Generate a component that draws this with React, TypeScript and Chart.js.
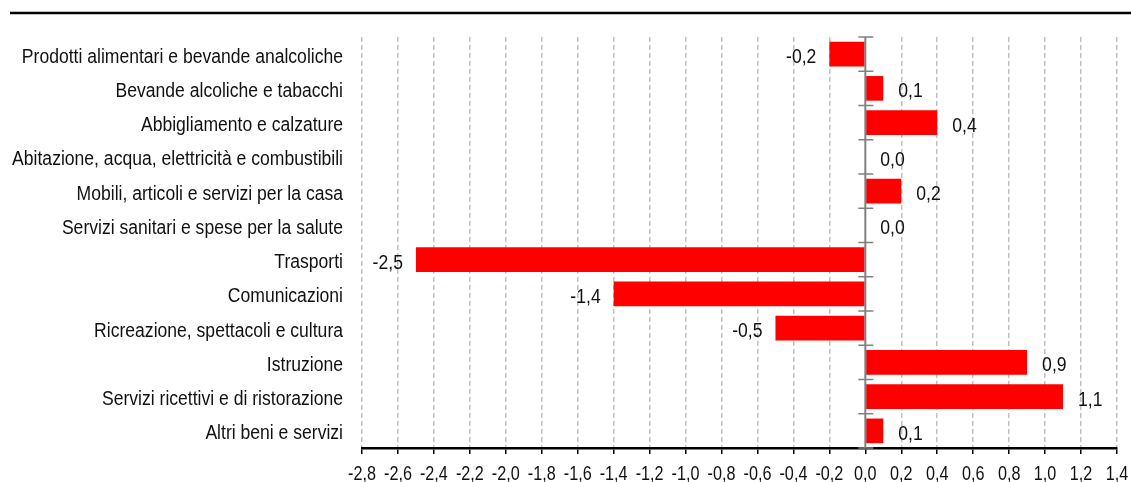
import React, { useEffect, useRef } from "react";
import { Chart, registerables } from "chart.js";

Chart.register(...registerables);

const categories: string[] = [
  "Prodotti alimentari e bevande analcoliche",
  "Bevande alcoliche e tabacchi",
  "Abbigliamento e calzature",
  "Abitazione, acqua, elettricità e combustibili",
  "Mobili, articoli e servizi per la casa",
  "Servizi sanitari e spese per la salute",
  "Trasporti",
  "Comunicazioni",
  "Ricreazione, spettacoli e cultura",
  "Istruzione",
  "Servizi ricettivi e di ristorazione",
  "Altri beni e servizi",
];

const values: number[] = [-0.2, 0.1, 0.4, 0.0, 0.2, 0.0, -2.5, -1.4, -0.5, 0.9, 1.1, 0.1];

const xTicks: number[] = [
  -2.8, -2.6, -2.4, -2.2, -2.0, -1.8, -1.6, -1.4, -1.2, -1.0, -0.8, -0.6, -0.4, -0.2,
  0.0, 0.2, 0.4, 0.6, 0.8, 1.0, 1.2, 1.4,
];

const FONT = "'Liberation Sans', Arial, sans-serif";
const FONT_PX = 20;
const SQUEEZE_CAT = 0.878;
const SQUEEZE_VAL = 0.88;
const SQUEEZE_TICK = 0.81;
const TEXT_COLOR = "#111111";

const fmt = (v: number) => {
  const r = Math.round(v * 10) / 10;
  const s = (Math.abs(r) < 1e-9 ? 0 : r).toFixed(1);
  return s.replace(".", ",");
};

const drawNarrow = (ctx: any, text: string, x: number, y: number, align: string, sq: number) => {
  ctx.save();
  ctx.translate(x, y);
  ctx.scale(sq, 1);
  ctx.textAlign = align;
  ctx.fillText(text, 0, 0);
  ctx.restore();
};

const decorPlugin = {
  id: "decor",
  beforeDraw(chart: any) {
    const ctx = chart.ctx;
    ctx.save();
    ctx.strokeStyle = "#000000";
    ctx.lineWidth = 2.5;
    ctx.beginPath();
    ctx.moveTo(10, 13);
    ctx.lineTo(chart.width, 13);
    ctx.stroke();
    ctx.restore();
  },
  afterDatasetsDraw(chart: any) {
    const ctx = chart.ctx;
    const xs = chart.scales.x;
    const ys = chart.scales.y;
    const area = chart.chartArea;
    const x0 = xs.getPixelForValue(0);
    ctx.save();
    // zero axis line
    ctx.strokeStyle = "#808080";
    ctx.lineWidth = 2;
    ctx.beginPath();
    ctx.moveTo(x0, area.top);
    ctx.lineTo(x0, area.bottom);
    ctx.stroke();
    // tick marks at category boundaries
    const n = categories.length;
    const band = (area.bottom - area.top) / n;
    ctx.lineWidth = 1.5;
    for (let i = 0; i <= n; i++) {
      const y = ys.getPixelForValue(i) - band / 2;
      ctx.beginPath();
      ctx.moveTo(x0 - 7, y);
      ctx.lineTo(x0 + 8, y);
      ctx.stroke();
    }
    ctx.fillStyle = TEXT_COLOR;
    ctx.font = `${FONT_PX}px ${FONT}`;
    ctx.textBaseline = "alphabetic";
    // value labels
    values.forEach((v, i) => {
      const y = ys.getPixelForValue(i) + 9;
      const xe = xs.getPixelForValue(v);
      if (v < 0) drawNarrow(ctx, fmt(v), xe - 13, y, "right", SQUEEZE_VAL);
      else drawNarrow(ctx, fmt(v), xe + 15, y, "left", SQUEEZE_VAL);
    });
    // category labels
    categories.forEach((c, i) => {
      drawNarrow(ctx, c, area.left - 19, ys.getPixelForValue(i) + 8.5, "right", SQUEEZE_CAT);
    });
    // x tick labels
    xTicks.forEach((t) => {
      drawNarrow(ctx, fmt(t), xs.getPixelForValue(t), area.bottom + 32, "center", SQUEEZE_TICK);
    });
    ctx.restore();
  },
};

export default function App() {
  const ref = useRef<HTMLCanvasElement | null>(null);
  useEffect(() => {
    document.body.style.margin = "0";
    if (!ref.current) return;
    const chart = new Chart(ref.current, {
      type: "bar",
      data: {
        labels: categories,
        datasets: [
          {
            data: values,
            backgroundColor: "#ff0000",
            borderWidth: 0,
            barPercentage: 0.72,
            categoryPercentage: 1,
          },
        ],
      },
      options: {
        indexAxis: "y",
        animation: false,
        responsive: false,
        maintainAspectRatio: false,
        layout: { padding: { top: 37, right: 14, bottom: 0, left: 0 } },
        plugins: {
          legend: { display: false },
          tooltip: { enabled: false },
        },
        scales: {
          x: {
            min: -2.8,
            max: 1.4,
            afterBuildTicks: (scale: any) => {
              scale.ticks = xTicks.map((v) => ({ value: v }));
            },
            afterFit: (scale: any) => {
              scale.height = 34;
            },
            grid: {
              color: (c: any) =>
                c.tick && Math.abs(c.tick.value) < 1e-9 ? "rgba(0,0,0,0)" : "#c0c0c0",
              lineWidth: 1.5,
              drawTicks: true,
              tickLength: 6,
              tickColor: "#000000",
              tickWidth: 1.5,
              tickBorderDash: [],
            },
            border: { display: true, color: "#000000", width: 2.5, dash: [5, 3] },
            ticks: { display: false },
          },
          y: {
            afterFit: (scale: any) => {
              scale.width = 362;
            },
            grid: { display: false },
            border: { display: false },
            ticks: { display: false },
          },
        },
      },
      plugins: [decorPlugin],
    });
    return () => chart.destroy();
  }, []);
  return (
    <div style={{ width: 1131, height: 482 }}>
      <canvas ref={ref} width={1131} height={482} style={{ display: "block" }} />
    </div>
  );
}
